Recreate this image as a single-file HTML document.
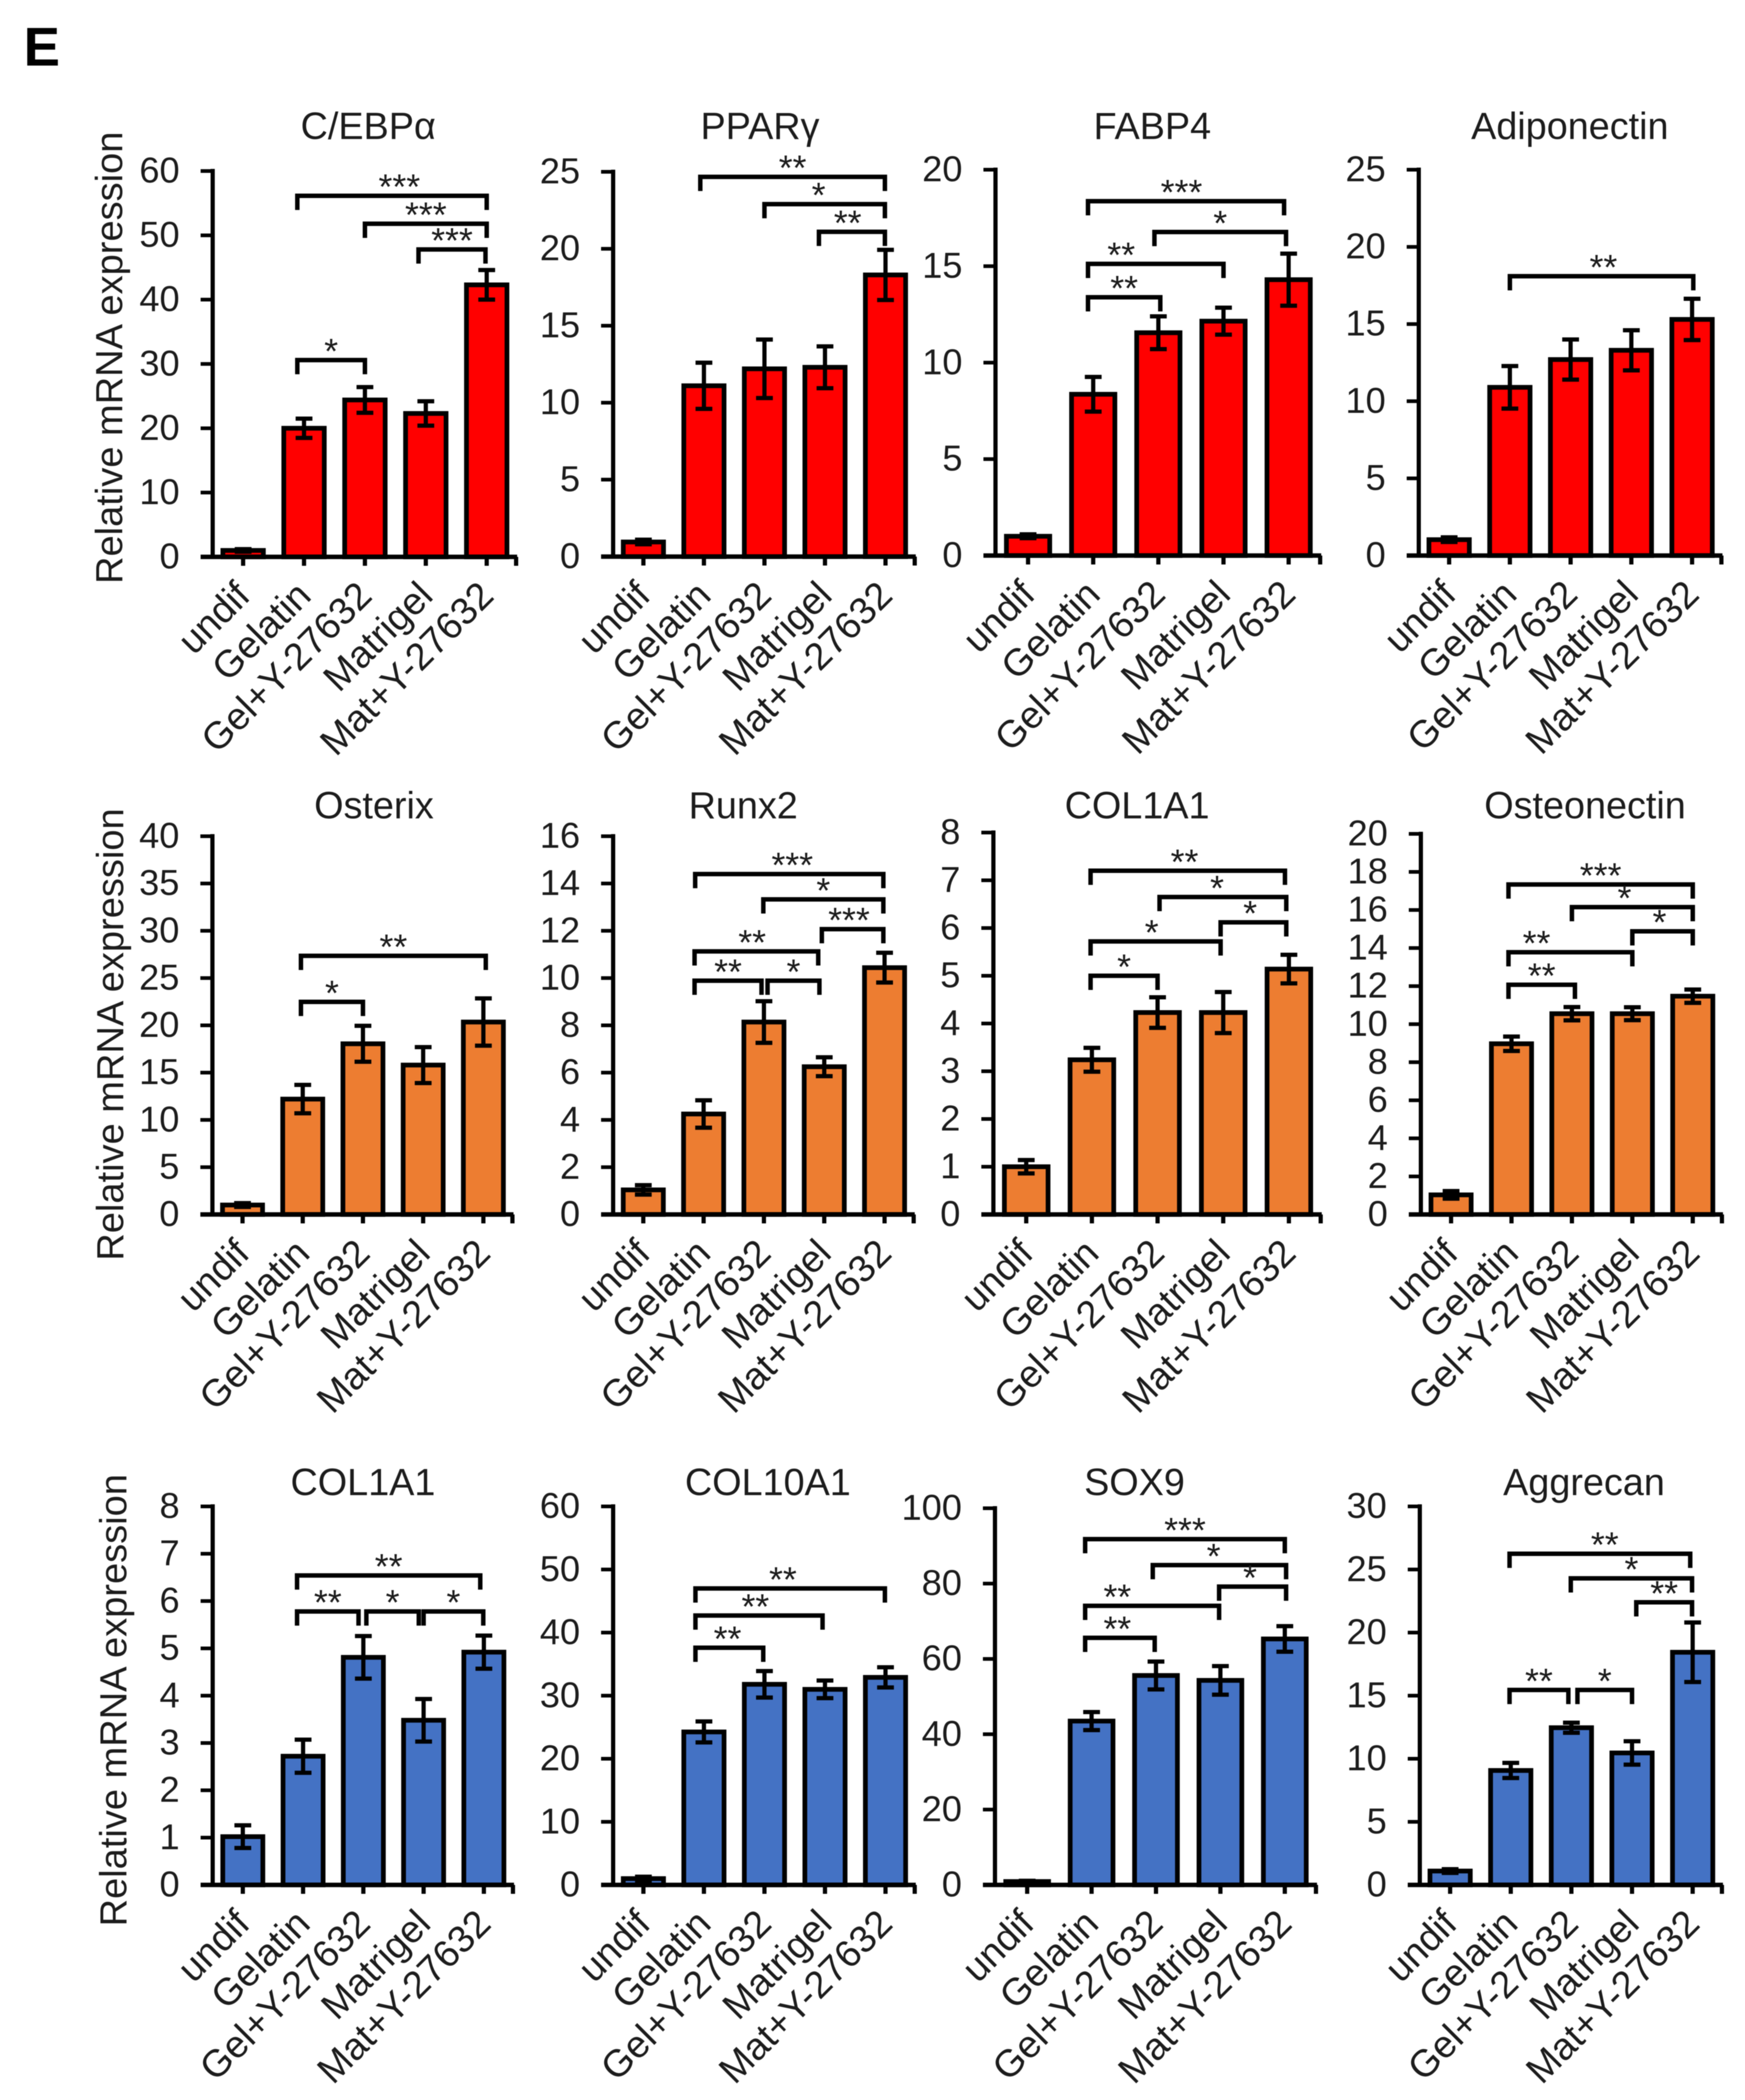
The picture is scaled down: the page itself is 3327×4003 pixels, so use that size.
<!DOCTYPE html>
<html lang="en">
<head>
<meta charset="utf-8">
<title>Relative mRNA expression panels</title>
<style>
html,body{margin:0;padding:0;background:#fff;}
body{width:3327px;height:4003px;overflow:hidden;position:relative;}
svg{display:block;position:absolute;left:0;top:0;filter:blur(0.8px);}
text{font-family:"Liberation Sans",Arial,sans-serif;fill:#1c1c1c;}
</style>
</head>
<body>
<svg id="fig" width="3327" height="4003" viewBox="0 0 3327 4003" xmlns="http://www.w3.org/2000/svg">
<text x="45" y="125" font-size="104" font-weight="700" style="fill:#000">E</text>
</svg>
<script>
const categories = ["undif","Gelatin","Gel+Y-27632","Matrigel","Mat+Y-27632"];
const yAxisTitle = "Relative mRNA expression";

// Series values (mean) and error half-widths
const valuesCebpa = [1,20,24.4,22.3,42.3];
const errorsCebpa = [0.2,1.5,2,1.9,2.3];
const ticksCebpa = [0,10,20,30,40,50,60];
const bracketsCebpa = [[0.89,4,56.15,"***",0.12],[2,4,51.8,"***",0],[2.88,3.98,47.8,"***",0],[0.89,2,30.6,"*",0]];

const valuesPparg = [0.95,11.1,12.2,12.3,18.3];
const errorsPparg = [0.15,1.5,1.9,1.36,1.63];
const ticksPparg = [0,5,10,15,20,25];
const bracketsPparg = [[0.94,3.99,24.67,"**",0],[2,3.99,22.9,"*",-0.1],[2.9,3.99,21.1,"**",-0.07]];

const valuesFabp4 = [1,8.36,11.55,12.15,14.3];
const errorsFabp4 = [0.1,0.9,0.85,0.7,1.35];
const ticksFabp4 = [0,5,10,15,20];
const bracketsFabp4 = [[0.92,3.93,18.37,"***",-0.07],[1.94,3.96,16.77,"*",0],[0.92,3,15.12,"**",-0.53],[0.92,2.03,13.39,"**",0]];

const valuesAdipo = [1.03,10.9,12.7,13.3,15.3];
const errorsAdipo = [0.15,1.38,1.3,1.3,1.34];
const ticksAdipo = [0,5,10,15,20,25];
const bracketsAdipo = [[1,4.02,18.1,"**",0.03]];

const valuesOsterix = [1,12.2,18.05,15.8,20.35];
const errorsOsterix = [0.2,1.5,1.9,1.9,2.5];
const ticksOsterix = [0,5,10,15,20,25,30,35,40];
const bracketsOsterix = [[0.97,4.04,27.35,"**",0],[0.97,2,22.48,"*",0]];

const valuesRunx2 = [1.04,4.25,8.14,6.25,10.44];
const errorsRunx2 = [0.2,0.58,0.88,0.4,0.63];
const ticksRunx2 = [0,2,4,6,8,10,12,14,16];
const bracketsRunx2 = [[0.86,3.98,14.4,"***",0.05],[1.99,3.98,13.33,"*",0],[2.96,3.98,12.07,"***",-0.06],[0.85,2.9,11.13,"**",-0.07],[0.85,1.96,9.89,"**",0],[2.06,2.92,9.89,"*",0]];

const valuesCol1a1Osteo = [1,3.24,4.23,4.23,5.14];
const errorsCol1a1Osteo = [0.14,0.25,0.32,0.43,0.3];
const ticksCol1a1Osteo = [0,1,2,3,4,5,6,7,8];
const bracketsCol1a1Osteo = [[0.98,3.94,7.2,"**",-0.05],[2.03,3.96,6.65,"*",-0.09],[2.96,3.96,6.12,"*",-0.05],[0.98,2.96,5.72,"*",-0.06],[0.98,2,5,"*",0]];

const valuesOsteonectin = [1.03,8.97,10.55,10.55,11.47];
const errorsOsteonectin = [0.2,0.38,0.35,0.34,0.35];
const ticksOsteonectin = [0,2,4,6,8,10,12,14,16,18,20];
const bracketsOsteonectin = [[0.95,4,17.34,"***",0],[2,4,16.15,"*",-0.13],[3,4,14.88,"*",-0.05],[0.95,3,13.78,"**",-0.56],[0.95,2.05,12.07,"**",0]];

const valuesCol1a1Chondro = [1.02,2.72,4.81,3.48,4.92];
const errorsCol1a1Chondro = [0.24,0.35,0.45,0.45,0.35];
const ticksCol1a1Chondro = [0,1,2,3,4,5,6,7,8];
const bracketsCol1a1Chondro = [[0.9,3.94,6.54,"**",0],[0.9,1.92,5.78,"**",0],[2.05,2.92,5.78,"*",0],[3,3.99,5.78,"*",0]];

const valuesCol10a1 = [1,24.25,31.8,31,32.9];
const errorsCol10a1 = [0.3,1.66,2.1,1.4,1.6];
const ticksCol10a1 = [0,10,20,30,40,50,60];
const bracketsCol10a1 = [[0.86,3.99,47,"**",-0.12],[0.86,2.96,42.7,"**",-0.06],[0.86,1.98,37.6,"**",-0.03]];

const valuesSox9 = [0.9,43.5,55.6,54.3,65.3];
const errorsSox9 = [0.2,2.4,3.7,3.8,3.4];
const ticksSox9 = [0,20,40,60,80,100];
const bracketsSox9 = [[0.9,4,91.8,"***",0],[1.95,4.02,84.9,"*",-0.09],[2.98,4.02,79.2,"*",-0.04],[0.9,2.98,74.1,"**",-0.54],[0.9,1.98,65.6,"**",-0.04]];

const valuesAggrecan = [1.1,9.07,12.46,10.46,18.44];
const errorsAggrecan = [0.15,0.6,0.4,0.93,2.36];
const ticksAggrecan = [0,5,10,15,20,25,30];
const bracketsAggrecan = [[0.98,3.96,26.25,"**",0.08],[1.99,3.99,24.3,"*",0],[3.07,3.99,22.4,"**",0],[0.98,1.95,15.45,"**",0],[2.1,3,15.45,"*",0]];

const RED = "#ff0000", ORANGE = "#ed7d31", BLUE = "#4472c4";

const panels = [
 {key:"cebpa",title:"C/EBPα",vals:valuesCebpa,errs:errorsCebpa,ticks:ticksCebpa,br:bracketsCebpa,color:RED,x0:405.5,x1:986,top:326,base:1061.5,tx:702,ty:265,yt:{x:233,y:682}},
 {key:"pparg",title:"PPARγ",vals:valuesPparg,errs:errorsPparg,ticks:ticksPparg,br:bracketsPparg,color:RED,x0:1169,x1:1746,top:327.5,base:1061,tx:1449,ty:265},
 {key:"fabp4",title:"FABP4",vals:valuesFabp4,errs:errorsFabp4,ticks:ticksFabp4,br:bracketsFabp4,color:RED,x0:1898,x1:2519,top:323.5,base:1059,tx:2197,ty:265},
 {key:"adiponectin",title:"Adiponectin",vals:valuesAdipo,errs:errorsAdipo,ticks:ticksAdipo,br:bracketsAdipo,color:RED,x0:2705,x1:3284,top:323.5,base:1059,tx:2993,ty:265},
 {key:"osterix",title:"Osterix",vals:valuesOsterix,errs:errorsOsterix,ticks:ticksOsterix,br:bracketsOsterix,color:ORANGE,x0:405,x1:979,top:1594,base:2315,tx:713,ty:1560,yt:{x:235,y:1972}},
 {key:"runx2",title:"Runx2",vals:valuesRunx2,errs:errorsRunx2,ticks:ticksRunx2,br:bracketsRunx2,color:ORANGE,x0:1169,x1:1744,top:1594,base:2315,tx:1417,ty:1560},
 {key:"col1a1-osteo",title:"COL1A1",vals:valuesCol1a1Osteo,errs:errorsCol1a1Osteo,ticks:ticksCol1a1Osteo,br:bracketsCol1a1Osteo,color:ORANGE,x0:1894,x1:2520,top:1587,base:2315,tx:2168,ty:1560},
 {key:"osteonectin",title:"Osteonectin",vals:valuesOsteonectin,errs:errorsOsteonectin,ticks:ticksOsteonectin,br:bracketsOsteonectin,color:ORANGE,x0:2709,x1:3285,top:1589.5,base:2315,tx:3022,ty:1560},
 {key:"col1a1-chondro",title:"COL1A1",vals:valuesCol1a1Chondro,errs:errorsCol1a1Chondro,ticks:ticksCol1a1Chondro,br:bracketsCol1a1Chondro,color:BLUE,x0:405.5,x1:980,top:2871.5,base:3593,tx:692,ty:2850,yt:{x:241,y:3241}},
 {key:"col10a1",title:"COL10A1",vals:valuesCol10a1,errs:errorsCol10a1,ticks:ticksCol10a1,br:bracketsCol10a1,color:BLUE,x0:1169,x1:1746,top:2871.5,base:3593,tx:1464,ty:2850},
 {key:"sox9",title:"SOX9",vals:valuesSox9,errs:errorsSox9,ticks:ticksSox9,br:bracketsSox9,color:BLUE,x0:1897,x1:2511,top:2875,base:3593,tx:2163,ty:2850},
 {key:"aggrecan",title:"Aggrecan",vals:valuesAggrecan,errs:errorsAggrecan,ticks:ticksAggrecan,br:bracketsAggrecan,color:BLUE,x0:2707,x1:3285,top:2871.5,base:3593,tx:3020,ty:2850}
];

const svg = document.getElementById("fig");
const NS = "http://www.w3.org/2000/svg";
function make(parent, tag, props, txt){
  const el = document.createElementNS(NS, tag);
  for (const k in props) el.setAttribute(k, props[k]);
  if (txt !== undefined) el.textContent = txt;
  parent.appendChild(el);
  return el;
}
function line(parent, x1, y1, x2, y2, w){
  return make(parent, "line", {x1:x1,y1:y1,x2:x2,y2:y2,stroke:"#000","stroke-width":w});
}

panels.forEach(function(p){
  const band = (p.x1 - p.x0) / categories.length;
  const xCat = function(c){ return p.x0 + (c + 0.5) * band; };
  const maxV = p.ticks[p.ticks.length - 1];
  const yVal = function(v){ return p.base - (v / maxV) * (p.base - p.top); };

  const g = make(svg, "g", {});
  
  

  const title = make(g, "text", {x:p.tx,y:p.ty,"text-anchor":"middle","font-size":72}, p.title);
  
  

  if (p.yt) {
    const yTitle = make(g, "text", {x:0,y:0,"text-anchor":"middle","font-size":72.5,transform:"translate(" + p.yt.x + " " + p.yt.y + ") rotate(-90)"}, yAxisTitle);
    
    
  }

  // bars + error bars
  p.vals.forEach(function(v, i){
    const cx = xCat(i);
    const w = band * 0.665;
    const bar = make(g, "rect", {x:cx - w / 2,y:yVal(v),width:w,height:p.base - yVal(v),fill:p.color,stroke:"#000","stroke-width":9});
    
    

    const eg = make(g, "g", {});
    
    
    const hi = yVal(v + p.errs[i]), lo = yVal(v - p.errs[i]);
    line(eg, cx, hi, cx, lo, 8);
    line(eg, cx - 16, hi, cx + 16, hi, 8);
    line(eg, cx - 16, lo, cx + 16, lo, 8);
  });

  // axes
  const yAxis = line(g, p.x0, p.top - 4, p.x0, p.base + 4, 8);
  
  
  const xAxis = line(g, p.x0 - 23, p.base, p.x1, p.base, 8.5);
  
  

  p.ticks.forEach(function(t){
    const y = yVal(t);
    const tk = line(g, p.x0 - 23, y, p.x0, y, 7);
    
    
    const lb = make(g, "text", {x:p.x0 - 63,y:y + 22,"text-anchor":"end","font-size":69}, String(t));
    
    
  });

  categories.forEach(function(c, i){
    const x = xCat(i);
    const tk = line(g, x, p.base, x, p.base + 17, 8);
    
    
    const lb = make(g, "text", {x:0,y:0,"text-anchor":"end","font-size":72.5,transform:"translate(" + (x + 17) + " " + (p.base + 78) + ") rotate(-45)"}, c);
    
    
  });
  const endTick = line(g, p.x1 - 2, p.base, p.x1 - 2, p.base + 17, 8);
  
  

  // significance brackets: [fromCategory, toCategory, level, stars, labelShift]
  p.br.forEach(function(b, i){
    const xa = xCat(b[0]), xb = xCat(b[1]), y = yVal(b[2]);
    const path = make(g, "path", {d:"M" + xa + " " + (y + 27) + "V" + y + "H" + xb + "V" + (y + 27),fill:"none",stroke:"#000","stroke-width":8.5});
    
    
    const star = make(g, "text", {x:(xa + xb) / 2 + b[4] * band,y:y + 6,"text-anchor":"middle","font-size":68}, b[3]);
    
    
  });
});
</script>
</body>
</html>
